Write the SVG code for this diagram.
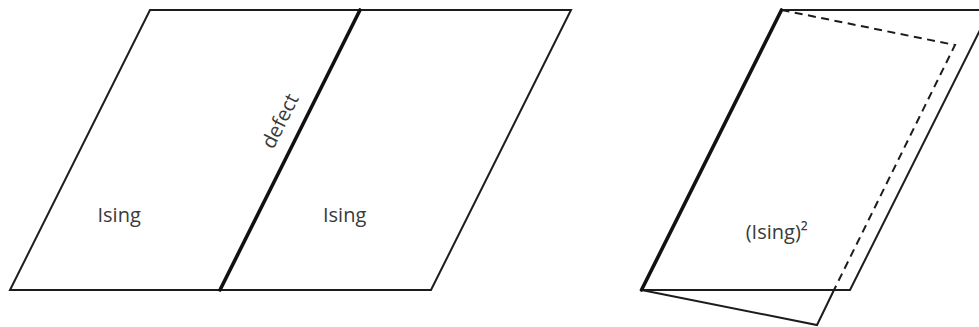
<svg xmlns="http://www.w3.org/2000/svg" width="979" height="327" viewBox="0 0 979 327">
<style>
.thin{fill:none;stroke:#1c1c1c;stroke-width:2;stroke-linejoin:miter}
.thick{fill:none;stroke:#111;stroke-width:3.6;stroke-linecap:round}
.dash{fill:none;stroke:#1c1c1c;stroke-width:2;stroke-dasharray:8 5.5}
.lbl{font-family:"Open Sans","Noto Sans",sans-serif;font-size:20px;fill:#3a3a3a}
</style>
<rect width="979" height="327" fill="#fff"/>
<g id="left-sheet">
<polygon class="thin" points="150,10 571,10 431,290 10,290"/>
<line id="defect-line" class="thick" x1="360" y1="10" x2="220" y2="290"/>
<text class="lbl" x="97.5" y="222">Ising</text>
<text class="lbl" x="323" y="222">Ising</text>
<text class="lbl" x="286.3" y="124.1" text-anchor="middle" transform="rotate(-63.4 286.3 124.1)">defect</text>
</g>
<g id="right-sheet">
<path class="dash" d="M781.5,10 L955,45 L834,290"/>
<path class="thin" d="M834,290 L817,325 L641.5,290"/>
<polygon class="thin" points="781.5,10 990,10 850,290 641.5,290"/>
<line class="thick" x1="781.5" y1="10" x2="641.5" y2="290"/>
<text class="lbl" x="745.7" y="239">(Ising)²</text>
</g>
</svg>
